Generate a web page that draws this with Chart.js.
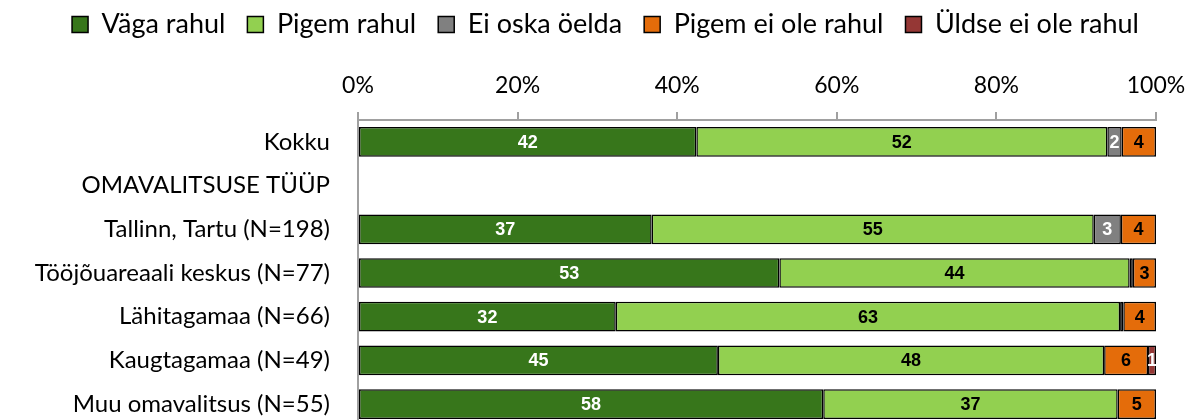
<!DOCTYPE html>
<html>
<head>
<meta charset="utf-8">
<script src="https://cdn.jsdelivr.net/npm/chart.js@4/dist/chart.umd.min.js"></script>
<style>
  html, body { margin: 0; padding: 0; background: #fff; overflow: hidden; }
  canvas { display: block; }
</style>
</head>
<body>
<canvas id="chart" width="1195" height="430"></canvas>
<script>
// --- data (percent of respondents) ---
const categories = [
  'Kokku',
  'OMAVALITSUSE TÜÜP',
  'Tallinn, Tartu (N=198)',
  'Tööjõuareaali keskus (N=77)',
  'Lähitagamaa (N=66)',
  'Kaugtagamaa (N=49)',
  'Muu omavalitsus (N=55)'
];
const seriesNames = ['Väga rahul', 'Pigem rahul', 'Ei oska öelda', 'Pigem ei ole rahul', 'Üldse ei ole rahul'];
const vagaRahul  = [42.4, null, 36.8, 52.8, 32.3, 45.1, 58.3];
const pigemRahul = [51.5, null, 55.4, 43.9, 63.2, 48.4, 36.9];
const eiOska     = [1.8,  null, 3.4,  0.4,  0.4,  0,    0];
const pigemEi    = [4.3,  null, 4.4,  2.9,  4.1,  5.5,  4.8];
const uldseEi    = [0,    null, 0,    0,    0,    1.0,  0];
const xTicks = [0, 20, 40, 60, 80, 100];

const fillColors  = ['#37761b', '#92d050', '#808080', '#e46c0a', '#953735'];
const labelColors = ['#fff', '#000', '#fff', '#000', '#fff'];
const FONT = 'Lato';

// value labels in the middle of every segment (rounded, hidden when < 1)
const barLabels = {
  id: 'barLabels',
  afterDatasetsDraw(chart) {
    const ctx = chart.ctx;
    ctx.save();
    ctx.font = 'bold 18px "Liberation Sans", Arial, sans-serif';
    ctx.textAlign = 'center';
    ctx.textBaseline = 'middle';
    chart.data.datasets.forEach((ds, i) => {
      chart.getDatasetMeta(i).data.forEach((bar, j) => {
        const v = ds.data[j];
        if (v == null || Math.round(v) < 1) return;
        const p = bar.getProps(['x', 'y', 'base'], true);
        ctx.fillStyle = labelColors[i];
        ctx.fillText(String(Math.round(v)), (p.x + p.base) / 2, p.y + 1);
      });
    });
    ctx.restore();
  }
};

const allSeries = [vagaRahul, pigemRahul, eiOska, pigemEi, uldseEi];

new Chart(document.getElementById('chart'), {
  type: 'bar',
  data: {
    labels: categories,
    datasets: allSeries.map((d, i) => ({
      label: seriesNames[i],
      data: d,
      backgroundColor: fillColors[i],
      borderColor: '#000',
      borderWidth: 1.5,
      borderSkipped: false,
      barPercentage: 0.68,
      categoryPercentage: 1
    }))
  },
  options: {
    indexAxis: 'y',
    responsive: false,
    animation: false,
    layout: { padding: { left: 16, right: 0, top: -11, bottom: 4 } },
    plugins: {
      tooltip: { enabled: false },
      legend: {
        position: 'top',
        labels: {
          color: '#000',
          font: { family: FONT, size: 27 },
          boxWidth: 16,
          boxHeight: 16,
          padding: 22
        }
      }
    },
    scales: {
      x: {
        position: 'top',
        stacked: true,
        min: 0,
        max: 100,
        afterBuildTicks: s => { s.ticks = xTicks.map(v => ({ value: v })); },
        afterFit: s => { s.height = 72; s.paddingLeft = 0; s.paddingRight = 39; },
        ticks: {
          color: '#000',
          font: { family: FONT, size: 23 },
          padding: 13,
          callback: v => v + '%'
        },
        grid: { drawOnChartArea: false, drawTicks: true, tickLength: 8, color: '#a0a0a0', lineWidth: 2 },
        border: { display: true, color: '#a0a0a0', width: 2 }
      },
      y: {
        stacked: true,
        afterFit: s => { s.width = 342; s.paddingTop = 0; s.paddingBottom = 0; },
        ticks: {
          color: '#000',
          font: { family: FONT, size: 24 },
          padding: 28
        },
        grid: { display: false, drawTicks: false },
        border: { display: true, color: '#a0a0a0', width: 2 }
      }
    }
  },
  plugins: [barLabels]
});
</script>
</body>
</html>
